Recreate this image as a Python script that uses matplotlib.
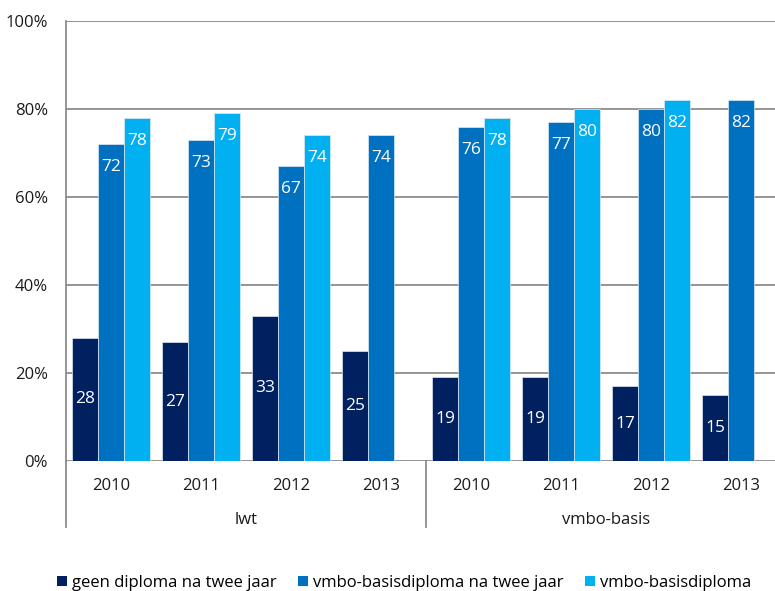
import matplotlib
matplotlib.use("Agg")
import matplotlib.pyplot as plt
import numpy as np
from matplotlib.lines import Line2D
from matplotlib.patches import Patch

groups = ["lwt", "vmbo-basis"]
years = ["2010", "2011", "2012", "2013"]
series_names = ["geen diploma na twee jaar", "vmbo-basisdiploma na twee jaar", "vmbo-basisdiploma"]
geen = [28, 27, 33, 25, 19, 19, 17, 15]
basis_twee = [72, 73, 67, 74, 76, 77, 80, 82]
basis = [78, 79, 74, None, 78, 80, 82, None]
colors = ["#002060", "#0070C0", "#00B0F0"]
yticks = [0, 20, 40, 60, 80, 100]

W, H = 775, 591
fig = plt.figure(figsize=(W / 100, H / 100), dpi=100)
ax = fig.add_axes([66 / W, (H - 461) / H, 720 / W, 440 / H])
plt.rcParams["font.family"] = ["DejaVu Sans"]

font = "Open Sans"
n = len(geen)
x = np.arange(n)
bw = 0.289
allseries = [geen, basis_twee, basis]
for i, (vals, c) in enumerate(zip(allseries, colors)):
    xs = [xi + (i - 1) * bw for xi, v in zip(x, vals) if v is not None]
    vs = [v for v in vals if v is not None]
    ax.bar(xs, vs, width=bw, color=c, edgecolor="#dfe9f3", linewidth=0.5, zorder=3)
    for xx, v in zip(xs, vs):
        if i == 0:
            ax.text(xx, v / 2, str(v), color="white", ha="center", va="center",
                    fontsize=12.5, family=font, zorder=4)
        else:
            ax.annotate(str(v), (xx, v), xytext=(0, -16.5), textcoords="offset points",
                        color="white", ha="center", va="center", fontsize=12.5,
                        family=font, zorder=4)

ax.set_xlim(-0.5, n - 0.5)
ax.set_ylim(0, 100)
ax.set_yticks(yticks)
ax.set_yticklabels([f"{t}%" for t in yticks], family=font, fontsize=12, color="#1a1a1a")
ax.tick_params(axis="y", length=0, pad=13)
ax.set_xticks([])
for t in yticks:
    ax.axhline(t, color="#8c8c8c", linewidth=1.3, zorder=1)
for s in ["top", "right", "bottom"]:
    ax.spines[s].set_visible(False)
ax.spines["left"].set_color("#8c8c8c")
ax.spines["left"].set_linewidth(1.3)

trans = ax.get_xaxis_transform()
for xi, yr in zip(x, years * 2):
    ax.text(xi, -25 / 440, yr, transform=trans, ha="center", va="center",
            fontsize=12, family=font, color="#1a1a1a")
for gi, g in enumerate(groups):
    ax.text(gi * 4 + 1.5, -59 / 440, g, transform=trans, ha="center", va="center",
            fontsize=12, family=font, color="#1a1a1a")
for xd in [-0.5, 3.5, 7.5]:
    ax.add_line(Line2D([xd, xd], [0, -66 / 440], transform=trans, color="#8c8c8c",
                       linewidth=1.3, clip_on=False))

handles = [Patch(facecolor=c, edgecolor="none") for c in colors]
fig.legend(handles, series_names, loc="center", bbox_to_anchor=(404 / W, 8 / H),
           ncol=3, frameon=False, prop={"family": font, "size": 12},
           handlelength=0.6, handleheight=0.6, handletextpad=0.3, columnspacing=1.3,
           borderaxespad=0, borderpad=0)

fig.savefig("out.png", dpi=100)
